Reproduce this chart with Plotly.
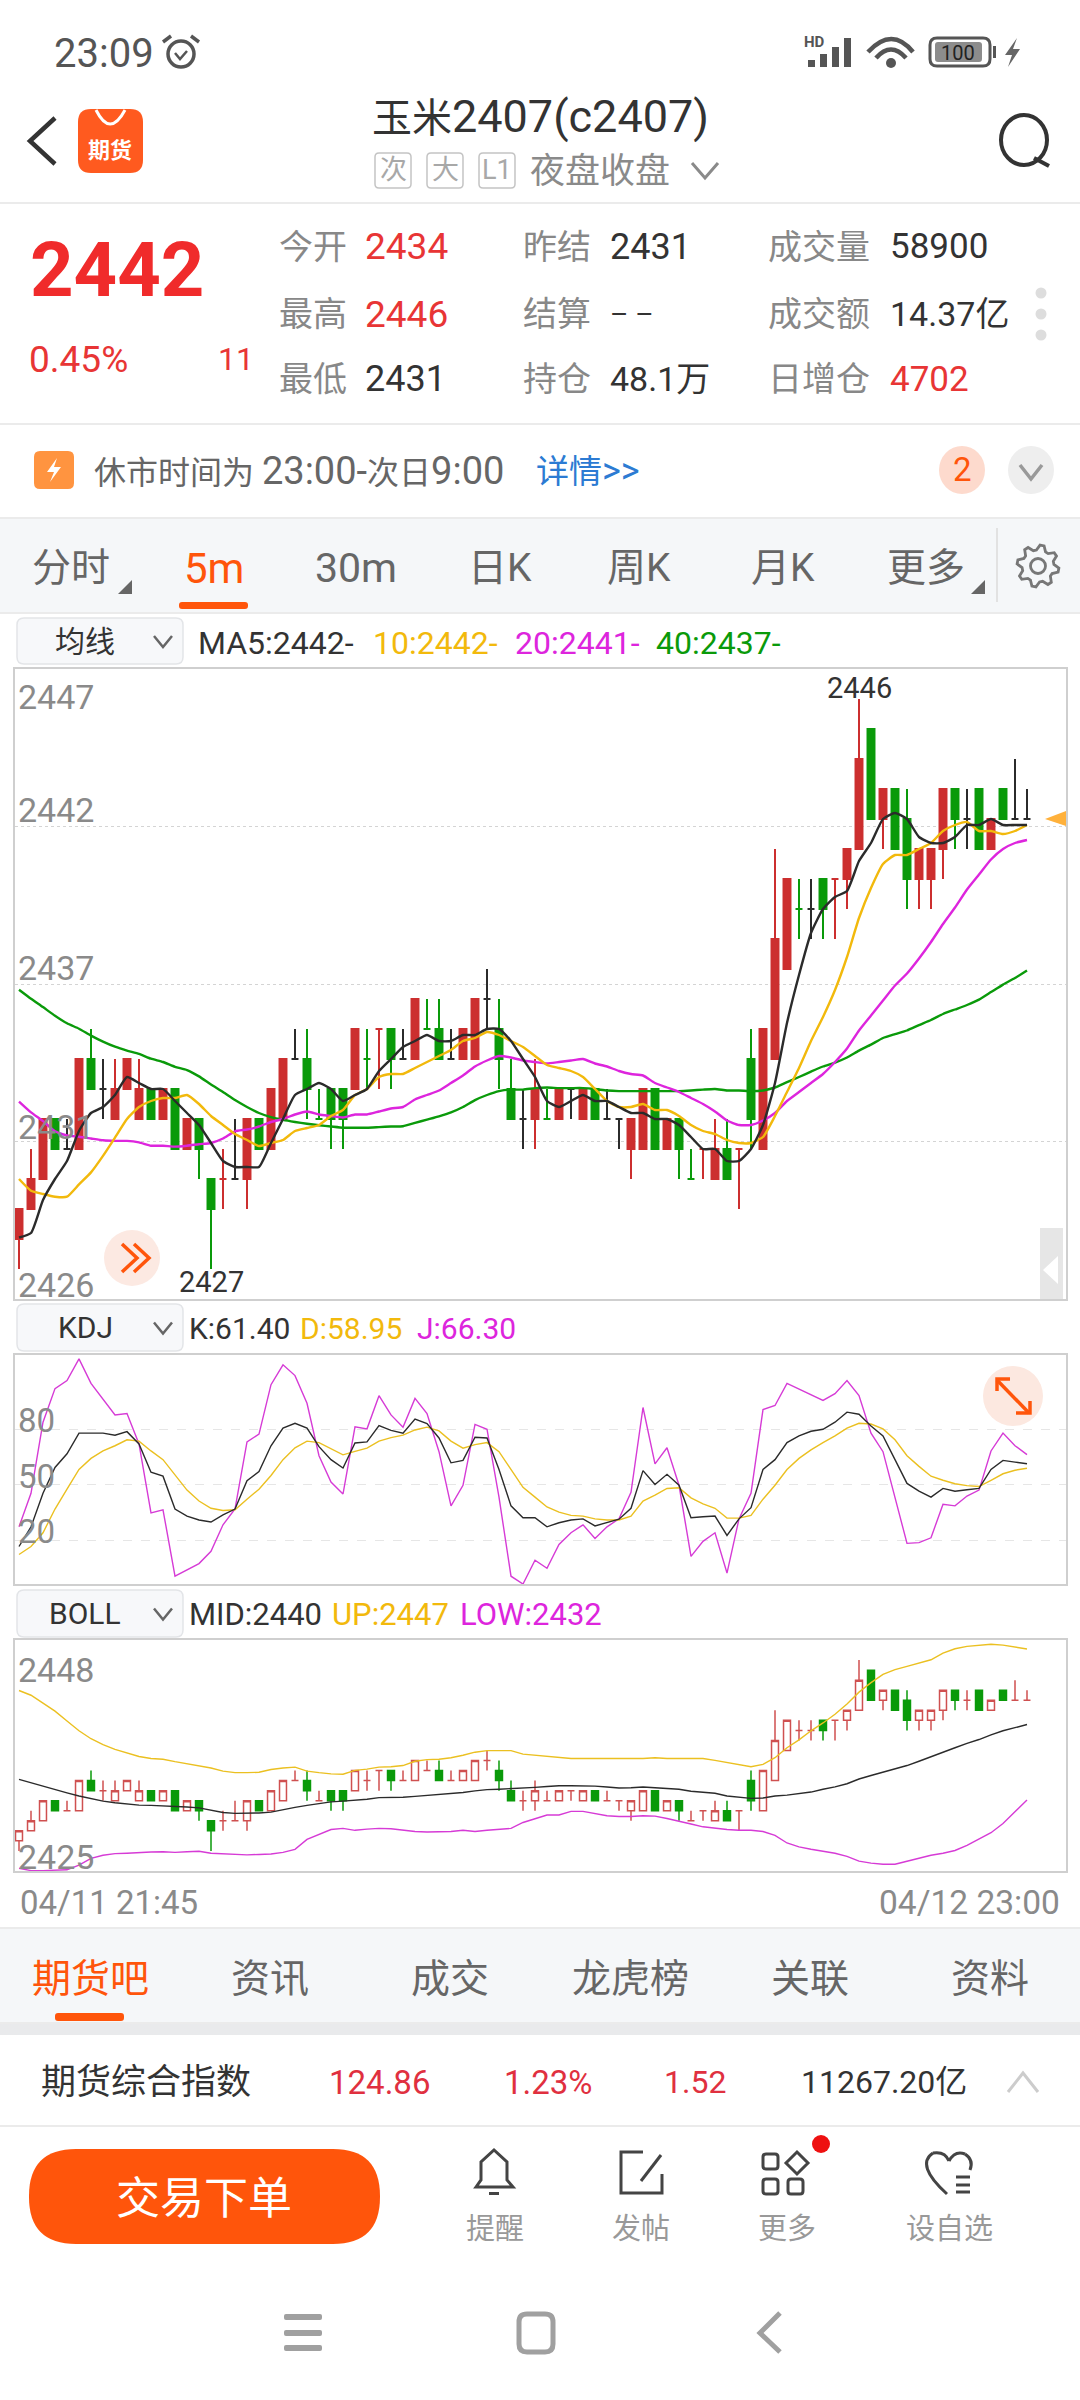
import math
import plotly.graph_objects as go

W, H = 1080, 2400

# 5 minute candles, c2407
opens = [2428,2429,2430,2432,2431,2431,2434,2433,2432,2433,2432,2433,2432,2433,2431,2432,2430,2430,2430,2430,
         2432,2431,2432,2434,2434,2432,2433,2433,2433,2434,2435,2435,2434,2434,2435,2435,2434,2434,2434,2436,
         2435,2433,2432,2432,2432,2432,2433,2432,2433,2432,2432,2431,2431,2433,2431,2432,2430,2431,2430,2431,
         2431,2434,2431,2434,2437,2439,2439,2440,2440,2440,2441,2445,2442,2443,2442,2440,2440,2441,2443,2442,
         2443,2441,2443,2442,2442]
highs = [2429,2431,2432,2432,2432,2434,2435,2434,2434,2434,2434,2433,2433,2433,2432,2432,2430,2431,2432,2432,
         2432,2433,2434,2435,2435,2433,2433,2433,2435,2435,2435,2435,2435,2436,2436,2436,2435,2435,2436,2437,
         2436,2434,2433,2434,2433,2433,2433,2433,2433,2433,2432,2432,2433,2433,2432,2432,2431,2431,2432,2432,
         2431,2435,2435,2441,2440,2440,2440,2440,2440,2441,2446,2445,2443,2443,2443,2441,2441,2443,2443,2443,
         2443,2442,2443,2444,2443]
lows = [2427,2429,2430,2431,2431,2431,2433,2432,2432,2433,2432,2432,2432,2431,2431,2430,2427,2429,2430,2429,
        2431,2431,2432,2434,2432,2432,2431,2431,2433,2433,2433,2433,2434,2434,2435,2434,2434,2434,2434,2435,
        2433,2432,2431,2431,2432,2432,2432,2432,2432,2432,2431,2430,2431,2431,2431,2430,2430,2430,2430,2430,
        2429,2431,2431,2434,2437,2438,2438,2438,2438,2439,2441,2442,2441,2441,2439,2439,2439,2440,2441,2441,
        2441,2441,2442,2442,2442]
closes = [2429,2430,2432,2431,2431,2434,2433,2433,2433,2434,2433,2432,2433,2431,2432,2431,2429,2430,2430,2432,
          2431,2433,2434,2434,2433,2432,2432,2432,2435,2434,2435,2434,2434,2436,2435,2434,2434,2435,2436,2436,
          2434,2432,2432,2433,2432,2433,2433,2433,2432,2432,2432,2432,2433,2431,2432,2431,2430,2431,2431,2430,
          2431,2432,2435,2438,2440,2439,2439,2439,2440,2441,2444,2442,2443,2441,2440,2441,2441,2443,2442,2442,
          2441,2442,2442,2442,2442]

# flat candles are drawn red or green in the app when they sit on a move, black otherwise
red_flat = [17, 30, 57, 60, 68]
green_flat = [25, 29, 34, 44, 56, 65]

ma5 = [2428.05,2428.2,2429.3,2430.0,2430.6,2431.6,2432.2,2432.4,2432.8,2433.4,2433.2,2433.0,2433.0,2432.6,2432.2,2431.8,2431.2,
       2430.6,2430.4,2430.4,2430.4,2431.2,2432.0,2432.8,2433.0,2433.2,2433.0,2432.6,2432.8,2433.0,2433.6,2434.0,2434.4,2434.6,
       2434.8,2434.6,2434.6,2434.8,2434.8,2435.0,2435.0,2434.6,2434.0,2433.4,2432.6,2432.4,2432.6,2432.8,2432.6,2432.6,2432.4,
       2432.2,2432.2,2432.0,2432.0,2431.8,2431.4,2431.0,2431.0,2430.6,2430.6,2431.0,2431.8,2433.2,2435.2,2436.8,2438.2,2439.0,
       2439.4,2439.6,2440.6,2441.2,2442.0,2442.2,2442.0,2441.4,2441.2,2441.2,2441.4,2441.8,2441.8,2442.0,2441.8,2441.8,2441.8]
ma10 = [2430.0,2429.61,2429.5,2429.41,2429.41,2429.82,2430.22,2430.77,2431.38,2432.0,2432.4,2432.6,2432.7,2432.7,2432.8,2432.5,
        2432.1,2431.8,2431.5,2431.3,2431.1,2431.2,2431.3,2431.6,2431.7,2431.8,2432.1,2432.3,2432.8,2433.0,2433.4,2433.5,2433.5,
        2433.7,2433.9,2434.1,2434.3,2434.6,2434.7,2434.9,2434.8,2434.6,2434.4,2434.1,2433.8,2433.7,2433.6,2433.4,2433.0,2432.6,
        2432.4,2432.4,2432.5,2432.3,2432.3,2432.1,2431.8,2431.6,2431.5,2431.3,2431.2,2431.2,2431.4,2432.1,2432.9,2433.7,2434.6,
        2435.4,2436.3,2437.4,2438.7,2439.7,2440.5,2440.8,2440.8,2441.0,2441.2,2441.6,2441.8,2441.9,2441.6,2441.6,2441.5,2441.6,2441.8]
ma20 = [2432.58,2432.22,2431.93,2431.59,2431.45,2431.41,2431.35,2431.29,2431.27,2431.27,2431.22,2431.11,2431.11,2431.08,2431.11,
        2431.16,2431.2,2431.35,2431.59,2431.65,2431.75,2431.9,2432.0,2432.15,2432.25,2432.15,2432.1,2432.05,2432.15,2432.15,2432.25,
        2432.35,2432.4,2432.65,2432.8,2432.95,2433.2,2433.45,2433.75,2433.95,2434.1,2434.05,2433.95,2433.9,2433.85,2433.9,2433.95,
        2434.0,2433.85,2433.75,2433.6,2433.5,2433.45,2433.2,2433.05,2432.9,2432.7,2432.5,2432.25,2431.95,2431.8,2431.8,2431.95,2432.2,
        2432.6,2432.9,2433.2,2433.5,2433.9,2434.35,2434.95,2435.45,2435.95,2436.45,2436.85,2437.35,2437.9,2438.5,2439.05,2439.65,
        2440.15,2440.65,2441.0,2441.2,2441.3]
ma40 = [2436.31,2436.01,2435.73,2435.44,2435.19,2435.01,2434.78,2434.58,2434.41,2434.28,2434.17,2434.01,2433.9,2433.74,2433.63,
        2433.42,2433.15,2432.9,2432.63,2432.4,2432.2,2432.06,2431.97,2431.9,2431.84,2431.79,2431.75,2431.71,2431.71,2431.71,2431.73,
        2431.75,2431.76,2431.87,2431.98,2432.09,2432.22,2432.4,2432.63,2432.8,2432.93,2432.98,2432.98,2433.03,2433.05,2433.03,2433.03,
        2433.03,2433.0,2432.95,2432.93,2432.93,2432.93,2432.93,2432.93,2432.93,2432.95,2432.98,2433.0,2432.95,2432.95,2432.93,2432.95,
        2433.05,2433.23,2433.4,2433.58,2433.75,2433.88,2434.05,2434.28,2434.48,2434.7,2434.83,2434.95,2435.13,2435.3,2435.5,2435.65,
        2435.8,2435.98,2436.23,2436.48,2436.7,2436.95]

k_line = [16.8,27.4,45.5,59.4,66.8,77.9,77.9,77.9,76.8,78.7,72.1,56.8,54.7,37.0,33.2,31.1,30.0,33.8,37.0,52.3,57.2,71.1,80.6,83.2,
          80.6,70.6,63.6,59.1,72.6,73.2,81.9,79.4,77.9,85.5,83.0,75.3,61.9,63.2,75.7,75.3,58.3,38.7,32.3,32.3,27.4,29.6,31.1,31.7,
          27.9,29.6,31.5,37.4,57.7,50.2,55.7,49.8,32.3,32.8,33.2,22.8,31.7,37.7,58.3,63.6,72.8,76.4,78.9,80.0,83.8,89.2,88.1,81.7,
          76.4,63.6,50.8,46.6,43.4,48.1,46.6,47.4,48.1,58.3,63.2,62.3,61.4]
d_line = [12.5,16.8,24.2,37.0,47.7,58.3,64.3,68.3,71.1,74.3,73.6,68.3,63.6,55.1,47.2,41.3,37.4,36.2,36.6,42.3,47.7,55.1,63.6,70.0,
          73.6,72.8,69.4,66.2,68.1,69.8,73.6,75.5,76.8,79.6,81.1,79.1,73.6,69.8,71.7,72.8,67.9,58.3,48.7,43.4,38.1,35.3,33.6,33.2,
          31.7,31.1,31.1,33.2,41.3,44.5,48.1,48.5,43.0,39.8,37.4,32.1,32.1,33.6,42.3,49.8,58.3,64.3,68.9,72.8,76.4,80.6,83.2,82.8,
          80.2,74.3,65.7,60.0,54.7,52.5,50.6,49.6,49.1,52.5,56.0,57.9,58.95]
j_line = [27.4,45.5,83.8,101.9,106.2,117.9,104.7,96.2,87.7,88.5,72.1,34.9,36.6,0.8,4.0,7.6,14.2,28.5,37.0,73.2,77.4,104.0,114.7,108.9,
          94.0,65.7,51.5,45.1,81.3,80.2,98.1,87.7,81.1,96.6,88.5,67.9,38.7,49.8,82.6,80.0,43.4,0.8,-3.4,9.4,5.1,17.9,24.2,28.5,
          21.1,27.4,31.7,46.0,91.7,61.3,70.0,49.8,11.5,19.6,24.2,2.5,31.7,45.5,90.6,92.8,104.7,101.5,98.7,95.5,99.2,106.2,98.1,77.9,
          67.9,43.4,18.5,18.9,21.5,39.6,38.7,44.0,47.2,68.3,77.9,71.1,66.3]

boll_up = [2442.97,2442.5,2441.71,2440.92,2439.94,2438.96,2438.17,2437.58,2437.11,2436.72,2436.4,2436.2,2436.13,2435.89,2435.69,
           2435.5,2435.26,2434.95,2434.79,2434.79,2434.83,2435.1,2435.26,2435.34,2434.95,2434.79,2434.67,2434.63,2435.02,2435.14,
           2435.34,2435.38,2435.5,2435.93,2436.09,2436.13,2436.28,2436.52,2436.83,2436.99,2436.99,2436.99,2436.64,2436.52,2436.4,
           2436.32,2436.2,2436.2,2436.2,2436.2,2436.2,2436.2,2436.2,2436.28,2436.2,2436.2,2436.2,2436.2,2436.01,2435.81,2435.57,
           2435.38,2435.61,2436.28,2437.27,2438.05,2438.96,2439.74,2440.61,2441.63,2442.81,2443.75,2444.58,2445.05,2445.37,2445.72,
           2446.03,2446.7,2447.13,2447.37,2447.49,2447.57,2447.49,2447.33,2447.1]
boll_mid = [2434.12,2433.77,2433.45,2433.14,2432.78,2432.47,2432.19,2431.96,2431.8,2431.68,2431.56,2431.53,2431.49,2431.45,2431.37,
            2431.29,2431.05,2430.82,2430.74,2430.74,2430.78,2430.86,2431.13,2431.33,2431.53,2431.72,2431.88,2431.96,2432.04,2432.15,
            2432.31,2432.31,2432.35,2432.43,2432.51,2432.59,2432.67,2432.82,2432.98,2433.1,2433.14,2433.18,2433.22,2433.33,2433.41,
            2433.49,2433.49,2433.49,2433.45,2433.37,2433.26,2433.29,2433.37,2433.29,2433.22,2433.14,2432.94,2432.82,2432.74,2432.47,
            2432.35,2432.23,2432.27,2432.47,2432.55,2432.67,2432.86,2433.14,2433.37,2433.69,2434.16,2434.51,2434.83,2435.18,2435.5,
            2435.93,2436.4,2436.83,2437.27,2437.7,2438.09,2438.56,2438.96,2439.27,2439.59]
boll_low = [2425.27,2425.04,2425.04,2425.08,2425.12,2425.59,2426.26,2426.57,2426.73,2426.77,2426.85,2426.89,2426.92,2426.85,2426.92,
            2426.96,2426.77,2426.73,2426.65,2426.61,2426.65,2426.69,2426.85,2427.16,2428.14,2428.65,2429.13,2429.24,2429.05,2429.17,
            2429.24,2429.21,2429.09,2428.93,2428.89,2428.89,2428.93,2429.05,2428.93,2429.05,2429.13,2429.24,2429.83,2430.23,2430.58,
            2430.58,2430.94,2430.94,2430.7,2430.5,2430.42,2430.42,2430.5,2430.46,2430.23,2429.99,2429.68,2429.4,2429.24,2429.13,2429.05,
            2429.05,2428.93,2428.54,2427.79,2427.4,2427.16,2426.96,2426.77,2426.45,2425.98,2425.78,2425.67,2425.67,2425.98,2426.3,
            2426.57,2426.77,2427.04,2427.55,2428.14,2428.81,2429.72,2430.9,2432.08]

main_grid = [2441.75, 2436.5, 2431.25]
kdj_grid = [80, 50, 20]

RED = "#CC2F2F"
GREEN = "#0A9A0A"
BLACK = "#2B2B2B"
YELLOW = "#F2B90C"
MAGENTA = "#DD25DD"
ORANGE = "#FF550B"
GREY = "#8A8A8A"
FONT = "Roboto, Noto Sans CJK SC"

idx = list(range(len(closes)))
for s in [opens, highs, lows, ma5, ma10, ma20, ma40, k_line, d_line, j_line, boll_up, boll_mid, boll_low]:
    assert len(s) == len(closes), len(s)


def colour_of(i):
    if closes[i] > opens[i] or i in red_flat:
        return "r"
    if closes[i] < opens[i] or i in green_flat:
        return "g"
    return "k"


def candles(keep, colour, fill, width, xa, ya):
    rows = [i for i in idx if keep(i)]
    style = dict(line=dict(color=colour, width=width), fillcolor=fill)
    return go.Candlestick(
        x=rows,
        open=[opens[i] for i in rows],
        high=[highs[i] for i in rows],
        low=[lows[i] for i in rows],
        close=[closes[i] for i in rows],
        increasing=style,
        decreasing=style,
        whiskerwidth=0,
        xaxis=xa,
        yaxis=ya,
        showlegend=False,
        hoverinfo="skip",
    )


def curve(values, colour, width, xa, ya, smooth=False):
    line = dict(color=colour, width=width)
    if smooth:
        line.update(shape="spline", smoothing=0.5)
    return go.Scatter(x=idx, y=values, mode="lines", line=line, xaxis=xa, yaxis=ya,
                      showlegend=False, hoverinfo="skip")


fig = go.Figure()
fig.add_trace(candles(lambda i: colour_of(i) == "r", RED, RED, 2, "x", "y"))
fig.add_trace(candles(lambda i: colour_of(i) == "g", GREEN, GREEN, 2, "x", "y"))
fig.add_trace(candles(lambda i: colour_of(i) == "k", BLACK, BLACK, 2, "x", "y"))
fig.add_trace(curve(ma40, GREEN, 2.4, "x", "y", True))
fig.add_trace(curve(ma20, MAGENTA, 2.4, "x", "y", True))
fig.add_trace(curve(ma10, YELLOW, 2.4, "x", "y", True))
fig.add_trace(curve(ma5, BLACK, 2.4, "x", "y", True))

fig.add_trace(curve(j_line, "#D63BD6", 1.4, "x2", "y2"))
fig.add_trace(curve(d_line, "#EBC021", 1.4, "x2", "y2"))
fig.add_trace(curve(k_line, BLACK, 1.4, "x2", "y2"))

fig.add_trace(candles(lambda i: closes[i] >= opens[i], "#CF5050", "rgba(0,0,0,0)", 1.5, "x3", "y3"))
fig.add_trace(candles(lambda i: closes[i] < opens[i], GREEN, GREEN, 1.5, "x3", "y3"))
fig.add_trace(curve(boll_up, "#EBC021", 1.4, "x3", "y3"))
fig.add_trace(curve(boll_mid, BLACK, 1.4, "x3", "y3"))
fig.add_trace(curve(boll_low, "#D63BD6", 1.4, "x3", "y3"))


def px(x):
    return x / W


def py(y):
    return 1 - y / H


shapes = []
notes = []


def text(x, y, s, size=30, color="#333333", anchor="left", weight=400):
    if anchor == "left":
        x -= 1.5
    notes.append(dict(x=px(x), y=py(y), xref="paper", yref="paper", text=s, showarrow=False,
                      xanchor=anchor, yanchor="middle", borderpad=0,
                      font=dict(family=FONT, size=size, color=color, weight=weight)))


def big(s, size):
    return f"<span style='font-size:{size}px'>{s}</span>"


def rect(x0, y0, x1, y1, fill=None, line=None, width=1, layer="above"):
    shapes.append(dict(type="rect", xref="paper", yref="paper", x0=px(x0), x1=px(x1), y0=py(y0), y1=py(y1),
                       fillcolor=fill or "rgba(0,0,0,0)", layer=layer,
                       line=dict(color=line or "rgba(0,0,0,0)", width=width if line else 0)))


def oval(cx, cy, rx, ry=None, fill=None, line=None, width=1):
    ry = ry or rx
    shapes.append(dict(type="circle", xref="paper", yref="paper", x0=px(cx - rx), x1=px(cx + rx),
                       y0=py(cy + ry), y1=py(cy - ry), fillcolor=fill or "rgba(0,0,0,0)",
                       line=dict(color=line or "rgba(0,0,0,0)", width=width if line else 0)))


def path(d, fill=None, line=None, width=1):
    shapes.append(dict(type="path", xref="paper", yref="paper", path=d, fillcolor=fill or "rgba(0,0,0,0)",
                       line=dict(color=line or "rgba(0,0,0,0)", width=width if line else 0)))


def poly(points, fill=None, line=None, width=1, close=False):
    d = " ".join(("M" if n == 0 else "L") + f"{px(a):.5f},{py(b):.5f}" for n, (a, b) in enumerate(points))
    path(d + (" Z" if close else ""), fill, line, width)


def round_rect(x0, y0, x1, y1, r, fill=None, line=None, width=1):
    def p(a, b):
        return f"{px(a):.5f},{py(b):.5f}"
    d = (f"M{p(x0 + r, y0)} L{p(x1 - r, y0)} Q{p(x1, y0)} {p(x1, y0 + r)} L{p(x1, y1 - r)} "
         f"Q{p(x1, y1)} {p(x1 - r, y1)} L{p(x0 + r, y1)} Q{p(x0, y1)} {p(x0, y1 - r)} "
         f"L{p(x0, y0 + r)} Q{p(x0, y0)} {p(x0 + r, y0)} Z")
    path(d, fill, line, width)


def arc(x0, y0, cx, cy, x1, y1, line, width):
    d = f"M{px(x0):.5f},{py(y0):.5f} Q{px(cx):.5f},{py(cy):.5f} {px(x1):.5f},{py(y1):.5f}"
    path(d, None, line, width)


# bands and separators
rect(0, 518, W, 613, fill="#F5F7F9", layer="below")
rect(0, 1928, W, 2023, fill="#F5F7F9", layer="below")
rect(0, 2023, W, 2035, fill="#E9EAEC", layer="below")
for y in [203, 424, 518, 613, 1928, 2023, 2126]:
    rect(0, y - 1, W, y + 1, fill="#EBEBEB", layer="below")

# status bar
text(54, 53, "23:09", 40, "#555555")
oval(181, 54, 13, 13, line="#555555", width=3.5)
poly([(175, 53), (180, 59), (187, 51)], line="#555555", width=2.5)
poly([(163, 42), (171, 36)], line="#555555", width=3.5)
poly([(191, 36), (199, 42)], line="#555555", width=3.5)
text(804, 42, "HD", 15, "#555555", weight=700)
for n, top in enumerate([60, 54, 47, 38]):
    rect(808 + n * 12, top, 815 + n * 12, 67, fill="#555555")
arc(868, 52, 892, 26, 913, 52, "#555555", 4.5)
arc(876, 58, 891, 41, 906, 58, "#555555", 4.5)
oval(891, 63, 5, fill="#555555")
round_rect(930, 38, 990, 66, 7, line="#555555", width=3)
round_rect(935, 42, 982, 62, 3, fill="#8C8C8C")
text(958, 53, "100", 20, "#222222", "center")
rect(993, 46, 996, 58, fill="#555555")
poly([(1017, 38), (1005, 55), (1012, 55), (1008, 67), (1020, 49), (1013, 49)], fill="#666666", close=True)

# title bar
poly([(55, 118), (30, 141), (55, 164)], line="#333333", width=4.5)
round_rect(78, 109, 143, 173, 13, fill="#FF5A1F")
arc(96, 110, 110, 138, 125, 110, "#FFFFFF", 3)
text(110, 151, "期货", 22, "#FFFFFF", "center", 700)
text(540, 117, "玉米" + big("2407(c2407)", 45), 40, "#333333", "center")
for label, x0, x1 in [("次", 375, 411), ("大", 427, 463), ("L1", 479, 515)]:
    round_rect(x0, 153, x1, 188, 4, line="#C4C4C4", width=1.5)
    text((x0 + x1) / 2, 170, label, 27, "#A8A8A8", "center")
text(530, 172, "夜盘收盘", 35, "#8A8A8A")
poly([(692, 163), (705, 178), (718, 163)], line="#8A8A8A", width=3)
oval(1024, 140, 23, 25, line="#333333", width=4)
poly([(1034, 158), (1049, 166)], line="#333333", width=4)

# quote block
text(30, 270, "2442", 76, "#F02B2B", weight=700)
text(29, 359, "0.45%", 37, "#E83535")
text(218, 359, "11", 32, "#E83535")
rows_y = [247, 314, 379]
text(279, rows_y[0], "今开", 34, "#888888")
text(365, rows_y[0], "2434", 37, "#E83535")
text(279, rows_y[1], "最高", 34, "#888888")
text(365, rows_y[1], "2446", 37, "#E83535")
text(279, rows_y[2], "最低", 34, "#888888")
text(365, rows_y[2], "2431", 36, "#333333")
text(523, rows_y[0], "昨结", 34, "#888888")
text(610, rows_y[0], "2431", 36, "#333333")
text(523, rows_y[1], "结算", 34, "#888888")
text(610, rows_y[1], big("– –", 28), 34, "#333333")
text(523, rows_y[2], "持仓", 34, "#888888")
text(610, rows_y[2], "48.1万", 34, "#333333")
text(768, rows_y[0], "成交量", 34, "#888888")
text(890, rows_y[0], "58900", 35, "#333333")
text(768, rows_y[1], "成交额", 34, "#888888")
text(890, rows_y[1], "14.37亿", 34, "#333333")
text(768, rows_y[2], "日增仓", 34, "#888888")
text(890, rows_y[2], "4702", 35, "#E83535")
for y in [293, 314, 335]:
    oval(1041, y, 5.5, fill="#DDDDDD")

# notice row
round_rect(34, 451, 74, 489, 6, fill="#FF9440")
poly([(57, 458), (47, 472), (54, 472), (50, 482), (61, 467), (54, 467)], fill="#FFFFFF", close=True)
text(94, 471, "休市时间为 " + big("23:00-", 38) + "次日" + big("9:00", 38), 32, "#666666")
text(536, 471, "详情" + big("&gt;&gt;", 36), 33, "#2C7BD3")
oval(962, 470, 23, 24, fill="#FDDACD")
text(962, 470, "2", 33, ORANGE, "center")
oval(1031, 470, 23, 24, fill="#EEEEEE")
poly([(1020, 465), (1031, 479), (1042, 465)], line="#999999", width=3.5)

# period tabs
for label, x, col, size in [("分时", 32, "#666666", 39), ("5m", 184, ORANGE, 42), ("30m", 315, "#666666", 41),
                            ("日K", 468, "#666666", 39), ("周K", 607, "#666666", 39), ("月K", 751, "#666666", 39),
                            ("更多", 887, "#666666", 39)]:
    text(x, 568, label, size, col)
round_rect(179, 602, 248, 609, 3, fill=ORANGE)
for x in [118, 971]:
    poly([(x + 14, 580), (x + 14, 594), (x, 594)], fill="#666666", close=True)
rect(996, 528, 998, 602, fill="#E2E2E2")
# gear
teeth = []
for n in range(32):
    a = math.radians(n * 11.25 + 5.6)
    r = 21 if n % 4 in (0, 1) else 16
    teeth.append((1038 + r * math.cos(a), 566 + r * math.sin(a)))
poly(teeth, line="#777777", width=2.8, close=True)
oval(1038, 566, 7.5, line="#777777", width=2.8)

# dropdown boxes and indicator read-outs
for label, y0, y1 in [("均线", 618, 664), ("KDJ", 1304, 1351), ("BOLL", 1590, 1637)]:
    round_rect(17, y0, 183, y1, 7, fill="#F7F8FA", line="#E3E5E8", width=1.5)
    ym = (y0 + y1) / 2
    text(85, ym, label, 30, "#333333", "center")
    poly([(154, ym - 5), (163, ym + 6), (172, ym - 5)], line="#666666", width=2.5)
text(198, 643, "MA5:2442-", 32, "#333333")
text(373, 643, "10:2442-", 32, YELLOW)
text(515, 643, "20:2441-", 32, MAGENTA)
text(656, 643, "40:2437-", 32, GREEN)
text(189, 1328, "K:61.40", 30, "#333333")
text(300, 1328, "D:58.95", 30, YELLOW)
text(417, 1328, "J:66.30", 30, MAGENTA)
text(189, 1614, "MID:2440", 31, "#333333")
text(332, 1614, "UP:2447", 31, YELLOW)
text(460, 1614, "LOW:2432", 31, MAGENTA)

# axis labels inside the panels
for label, y in [("2447", 697), ("2442", 810), ("2437", 968), ("2431", 1127), ("2426", 1285)]:
    text(18, y, label, 34, GREY)
for label, y in [("80", 1420), ("50", 1476), ("20", 1531)]:
    text(18, y, label, 33, GREY)
text(18, 1670, "2448", 34, GREY)
text(18, 1857, "2425", 34, GREY)
text(20, 1902, "04/11 21:45", 33, GREY)
text(1061, 1902, "04/12 23:00", 33.5, GREY, "right")

# extremes on the main panel
notes.append(dict(x=70, y=2446, xref="x", yref="y", text="2446", showarrow=False, yanchor="bottom", yshift=-8,
                  font=dict(family=FONT, size=29, color="#333333")))
notes.append(dict(x=16, y=2427, xref="x", yref="y", text="2427", showarrow=False, yanchor="top", yshift=6,
                  font=dict(family=FONT, size=29, color="#333333")))

# overlays on the panels
oval(132, 1258, 28, fill="#FCE9E2")
poly([(122, 1244), (137, 1258), (122, 1272)], line=ORANGE, width=3.5)
poly([(134, 1244), (149, 1258), (134, 1272)], line=ORANGE, width=3.5)
rect(1040, 1228, 1063, 1299, fill="#E6E6E6")
poly([(1058, 1256), (1043, 1270), (1058, 1284)], fill="#FFFFFF", close=True)
poly([(1045, 819), (1066, 811), (1066, 826)], fill="#FFB13B", close=True)
oval(1013, 1396, 30, fill="#FCE8E0")
poly([(997, 1380), (1029, 1413)], line=ORANGE, width=3.5)
poly([(997, 1391), (997, 1379), (1010, 1379)], line=ORANGE, width=3.5)
poly([(1016, 1413), (1030, 1413), (1030, 1401)], line=ORANGE, width=3.5)

# news tabs
for label, x, col in [("期货吧", 90, ORANGE), ("资讯", 270, "#666666"), ("成交", 450, "#666666"), ("龙虎榜", 630, "#666666"),
                      ("关联", 810, "#666666"), ("资料", 990, "#666666")]:
    text(x, 1979, label, 39, col, "center")
round_rect(55, 2013, 124, 2021, 3, fill=ORANGE)

# index row
text(41, 2082, "期货综合指数", 35, "#333333")
text(329, 2082, "124.86", 33, "#E0303F")
text(504, 2082, "1.23%", 33, "#E0303F")
text(664, 2082, "1.52", 32, "#E0303F")
text(801, 2082, "11267.20亿", 32, "#333333")
poly([(1008, 2092), (1023, 2073), (1038, 2092)], line="#CCCCCC", width=3)

# action bar
round_rect(29, 2149, 380, 2244, 47, fill=ORANGE)
text(204, 2199, "交易下单", 44, "#FFFFFF", "center")
for label, x in [("提醒", 495), ("发帖", 641), ("更多", 787), ("设自选", 949)]:
    text(x, 2229, label, 29, "#999999", "center")
poly([(476, 2187), (481, 2180), (481, 2162), (494, 2150), (507, 2162), (507, 2180), (513, 2187)],
     line="#444444", width=3, close=True)
rect(489, 2192, 499, 2195, fill="#444444")
poly([(643, 2152), (621, 2152), (621, 2193), (662, 2193), (662, 2174)], line="#444444", width=3)
poly([(661, 2155), (641, 2181)], line="#444444", width=3)
for x0, y0 in [(763, 2154), (763, 2179), (788, 2179)]:
    round_rect(x0, y0, x0 + 15, y0 + 15, 3, line="#444444", width=3)
poly([(797, 2152), (808, 2163), (797, 2174), (786, 2163)], line="#444444", width=3, close=True)
oval(821, 2144, 9, fill="#EE1111")
arc(947, 2194, 915, 2165, 933, 2153, "#444444", 3)
arc(933, 2153, 945, 2151, 949, 2161, "#444444", 3)
arc(949, 2161, 955, 2150, 965, 2154, "#444444", 3)
arc(965, 2154, 974, 2160, 970, 2170, "#444444", 3)
for y in [2177, 2185, 2192]:
    rect(956, y - 1.5, 970, y + 1.5, fill="#444444")

# navigation bar
for y in [2317, 2333, 2348]:
    round_rect(284, y - 3, 322, y + 3, 2, fill="#A0A0A0")
round_rect(519, 2314, 553, 2352, 8, line="#A0A0A0", width=5)
poly([(780, 2313), (760, 2333), (780, 2352)], line="#A0A0A0", width=5)

x_range = [-0.333, 87.25]
x_domain = [px(15), px(1066)]
frame = dict(showline=True, linecolor="#CFCFCF", linewidth=1.5, mirror=True, zeroline=False, ticks="")


def x_axis(anchor):
    return dict(domain=x_domain, range=x_range, anchor=anchor, showgrid=False, showticklabels=False,
                rangeslider=dict(visible=False), fixedrange=True, **frame)


def y_axis(anchor, top, bottom, low, high, grid, dash, grid_colour):
    return dict(domain=[py(bottom), py(top)], range=[low, high], anchor=anchor, tickmode="array", tickvals=grid,
                showticklabels=False, showgrid=bool(grid), griddash=dash, gridcolor=grid_colour, gridwidth=1,
                fixedrange=True, **frame)


fig.update_layout(
    width=W,
    height=H,
    margin=dict(l=0, r=0, t=0, b=0),
    paper_bgcolor="#FFFFFF",
    plot_bgcolor="#FFFFFF",
    showlegend=False,
    boxgap=0.42,
    boxgroupgap=0,
    xaxis=x_axis("y"),
    xaxis2=x_axis("y2"),
    xaxis3=x_axis("y3"),
    yaxis=y_axis("x", 669, 1299, 2426, 2447, main_grid, "dot", "#D4D4D4"),
    yaxis2=y_axis("x2", 1355, 1584, -3.4, 120, kdj_grid, "dash", "#E6E6E6"),
    yaxis3=y_axis("x3", 1640, 1871, 2425, 2448, [], "solid", "#D4D4D4"),
    shapes=shapes,
    annotations=notes,
)

fig.write_html("out.html", config=dict(displayModeBar=False), post_script="document.body.style.margin='0';")
